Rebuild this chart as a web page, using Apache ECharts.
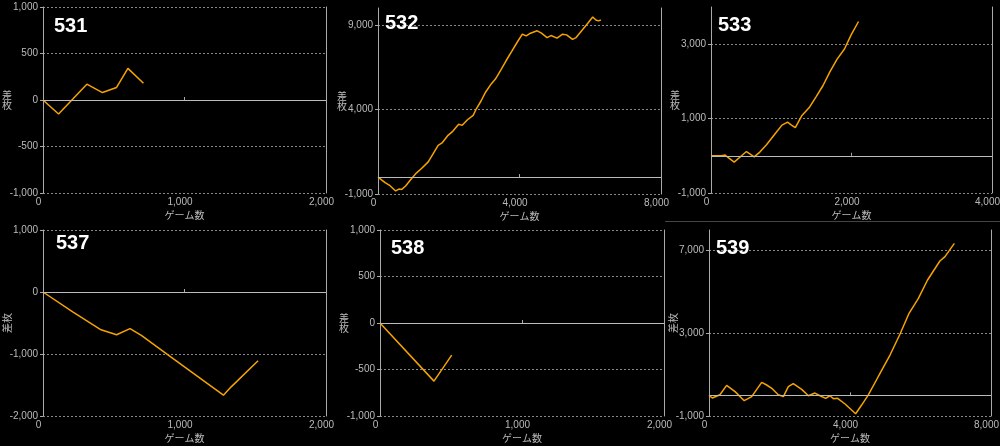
<!DOCTYPE html>
<html>
<head>
<meta charset="utf-8">
<script src="https://cdn.jsdelivr.net/npm/echarts@6/dist/echarts.min.js"></script>
<style>
  html, body { margin: 0; padding: 0; background: #000; }
  #chart { width: 1000px; height: 446px; }
</style>
</head>
<body>
<div id="chart"></div>
<script>
// 台番号
const machines = ['531', '532', '533', '537', '538', '539'];

// ゲーム数 / 差枚
const games531 = [0, 110, 310, 420, 520, 600, 710];
const diff531 = [0, -150, 170, 80, 135, 340, 180];

const games532 = [0, 200, 340, 500, 590, 670, 780, 950, 1090, 1230, 1420, 1560, 1700, 1810, 1980, 2120, 2280, 2380, 2530, 2690, 2780, 2920, 3040, 3200, 3320, 3470, 3620, 3780, 3930, 4080, 4190, 4310, 4500, 4610, 4780, 4890, 5060, 5220, 5330, 5500, 5600, 5780, 5930, 6070, 6160, 6230, 6300];
const diff532 = [0, -330, -510, -820, -710, -730, -530, -80, 250, 510, 900, 1390, 1880, 2020, 2470, 2720, 3120, 3060, 3390, 3650, 4040, 4530, 5020, 5510, 5800, 6330, 6880, 7430, 7960, 8450, 8350, 8510, 8650, 8530, 8250, 8370, 8220, 8450, 8410, 8140, 8250, 8710, 9100, 9470, 9290, 9240, 9290];

const games533 = [0, 150, 200, 330, 435, 505, 615, 695, 790, 910, 1010, 1090, 1145, 1200, 1295, 1405, 1500, 1595, 1690, 1795, 1900, 1995, 2100];
const diff533 = [0, 0, 20, -170, 0, 115, -30, 100, 295, 585, 825, 905, 825, 755, 1085, 1315, 1600, 1890, 2250, 2600, 2870, 3250, 3610];

const games537 = [0, 210, 410, 520, 615, 695, 905, 1275, 1330, 1520];
const diff537 = [0, -320, -610, -690, -590, -700, -1050, -1665, -1530, -1110];

const games538 = [0, 380, 505];
const diff538 = [0, -625, -345];

const games539 = [0, 95, 310, 500, 740, 1000, 1210, 1495, 1635, 1780, 1965, 2110, 2250, 2390, 2630, 2820, 3005, 3150, 3310, 3430, 3530, 3650, 3860, 4160, 4330, 4520, 4800, 5135, 5420, 5675, 5940, 6200, 6550, 6695, 6960];
const diff539 = [0, -130, 30, 480, 180, -260, -60, 630, 500, 340, 30, -60, 420, 565, 290, -20, 110, -20, -145, -20, -160, -145, -420, -890, -470, 20, 900, 1950, 2970, 3970, 4690, 5580, 6500, 6710, 7350];

const gamesList = [games531, games532, games533, games537, games538, games539];
const diffList = [diff531, diff532, diff533, diff537, diff538, diff539];

// 軸の範囲
const xMax = [2000, 8000, 4000, 2000, 2000, 8000];
const xStep = [1000, 4000, 2000, 1000, 1000, 4000];
const yMin = [-1000, -1000, -1000, -2000, -1000, -1000];
const yMax = [1000, 10000, 4000, 1000, 1000, 8000];
const yStep = [500, 5000, 2000, 1000, 500, 4000];

// レイアウト
const grids = [
  { left: 43, top: 7, width: 283, height: 186 },
  { left: 378, top: 8, width: 283, height: 186 },
  { left: 711, top: 7, width: 281, height: 186 },
  { left: 43, top: 230, width: 283, height: 186 },
  { left: 380, top: 230, width: 284, height: 186 },
  { left: 709, top: 230, width: 282, height: 186 }
];
const titlePos = [[54, 16], [385, 13], [718, 15], [56, 233], [391, 238], [716, 238]];
const rotatedName = [false, false, false, true, false, true];

const labelFont = { color: '#bbb', fontFamily: 'Liberation Sans', fontSize: 10 };
const fmt = (v) => v.toLocaleString('en-US');

const myChart = echarts.init(document.getElementById('chart'), null, { renderer: 'canvas' });

const option = {
  backgroundColor: '#000',
  animation: false,
  title: machines.map((m, i) => ({
    text: m,
    left: titlePos[i][0],
    top: titlePos[i][1],
    padding: 0,
    textStyle: { color: '#fff', fontSize: 20, fontWeight: 'bold', fontFamily: 'Liberation Sans' }
  })),
  grid: grids.map((g) => ({ ...g, containLabel: false, outerBoundsMode: 'none' })),
  xAxis: machines.map((m, i) => ({
    type: 'value',
    gridIndex: i,
    min: 0,
    max: xMax[i],
    interval: xStep[i],
    name: 'ゲーム数',
    nameLocation: 'middle',
    nameGap: 17,
    nameMoveOverlap: false,
    nameTextStyle: { color: '#bbb', fontFamily: 'Noto Sans CJK JP', fontSize: 10 },
    axisLine: { show: false },
    axisTick: { show: true, inside: true, length: 3, lineStyle: { color: '#aaa' } },
    axisLabel: { ...labelFont, margin: 4, formatter: fmt, padding: [0, 9, 0, 0] },
    splitLine: { show: false }
  })),
  yAxis: machines.flatMap((m, i) => [
    {
      type: 'value',
      gridIndex: i,
      min: yMin[i],
      max: yMax[i],
      interval: yStep[i],
      name: rotatedName[i] ? '差枚' : '差\n枚',
      nameLocation: 'middle',
      nameRotate: rotatedName[i] ? 90 : 0,
      nameGap: 31,
      nameMoveOverlap: false,
      nameTextStyle: { color: '#bbb', fontFamily: 'Noto Sans CJK JP', fontSize: 10, lineHeight: 10 },
      axisLine: { show: true, lineStyle: { color: '#aaa' } },
      axisTick: { show: true, length: 3, lineStyle: { color: '#aaa' } },
      axisLabel: { ...labelFont, margin: 5, formatter: fmt, showMaxLabel: (yMax[i] - yMin[i]) % yStep[i] === 0 },
      splitLine: {
        show: true,
        showMaxLine: (yMax[i] - yMin[i]) % yStep[i] === 0,
        lineStyle: { color: '#888', type: [2, 2], width: 1 }
      }
    },
    {
      type: 'value',
      gridIndex: i,
      position: 'right',
      min: yMin[i],
      max: yMax[i],
      axisLine: { show: true, lineStyle: { color: '#aaa' } },
      axisTick: { show: false },
      axisLabel: { show: false },
      splitLine: { show: false }
    }
  ]),
  series: machines.map((m, i) => ({
    name: m,
    type: 'line',
    xAxisIndex: i,
    yAxisIndex: i * 2,
    data: gamesList[i].map((g, k) => [g, diffList[i][k]]),
    showSymbol: false,
    lineStyle: { color: '#f5a300', width: 1.5 },
    markLine: {
      silent: true,
      symbol: 'none',
      label: { show: false },
      lineStyle: { color: '#bbb', type: 'solid', width: 1 },
      data: [{ yAxis: 0 }]
    }
  })),
  graphic: [
    {
      type: 'line',
      shape: { x1: 665, y1: 221.5, x2: 1000, y2: 221.5 },
      style: { stroke: '#444', lineWidth: 1 }
    }
  ]
};

myChart.setOption(option);
</script>
</body>
</html>
